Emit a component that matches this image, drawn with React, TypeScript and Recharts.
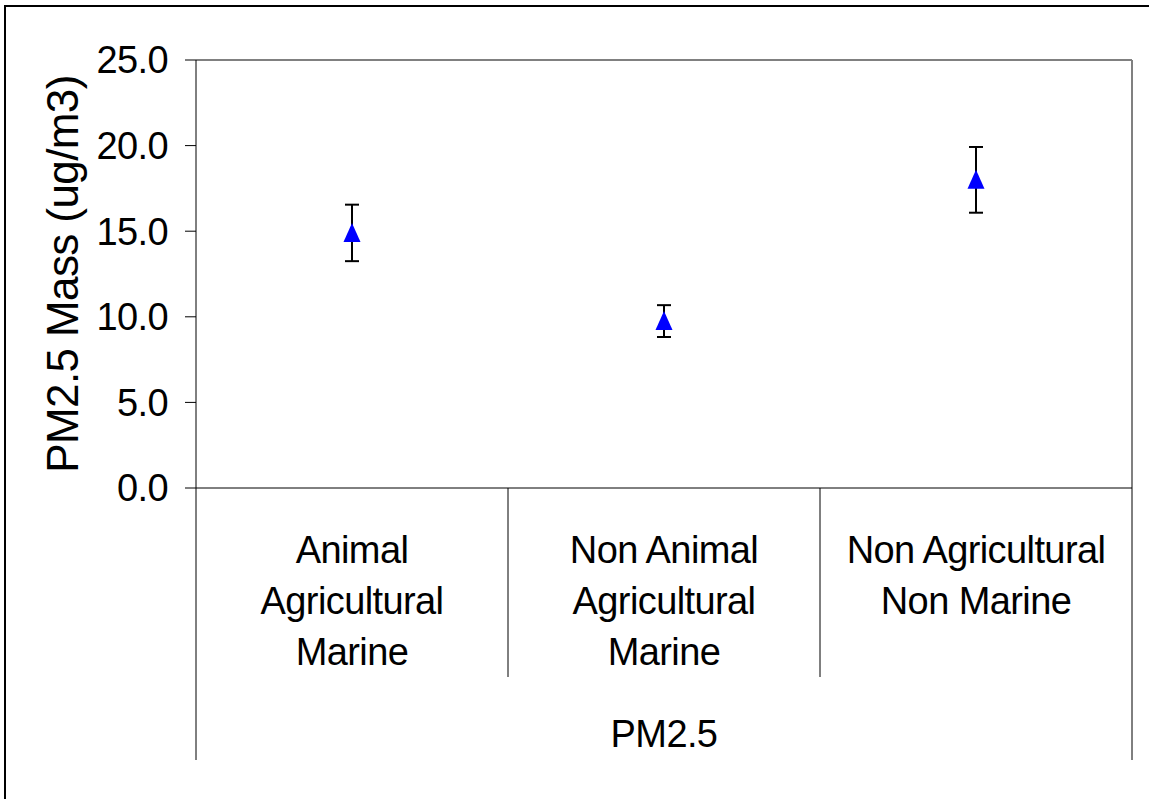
import React from "react";
import {
  ComposedChart,
  Line,
  XAxis,
  YAxis,
  CartesianGrid,
  ErrorBar,
  Label,
} from "recharts";

const CATEGORIES = [
  "Animal Agricultural Marine",
  "Non Animal Agricultural Marine",
  "Non Agricultural Non Marine",
];

// how each category label wraps under the axis
const CATEGORY_LINES = [
  ["Animal", "Agricultural", "Marine"],
  ["Non Animal", "Agricultural", "Marine"],
  ["Non Agricultural", "Non Marine"],
];

const PM25_MEAN = [14.9, 9.75, 18.0];
const PM25_ERROR = [1.65, 0.93, 1.92];

const Y_TICKS = [0, 5, 10, 15, 20, 25];
const GROUP_LABEL = "PM2.5";
const Y_LABEL = "PM2.5 Mass (ug/m3)";

const FONT = "'Liberation Sans', Arial, Helvetica, sans-serif";

const data = CATEGORIES.map((name, i) => ({
  name,
  mean: PM25_MEAN[i],
  err: PM25_ERROR[i],
}));

const TriangleDot = (props: any) => {
  const { cx, cy } = props;
  if (cx == null || cy == null) return null;
  return (
    <path
      d={`M${cx},${cy - 10} L${cx + 8.5},${cy + 9} L${cx - 8.5},${cy + 9} Z`}
      fill="#0000FF"
      stroke="none"
    />
  );
};

const CategoryTick = (props: any) => {
  const { x, y, index, width, visibleTicksCount, payload } = props;
  const count = visibleTicksCount || CATEGORIES.length;
  const half = width ? width / count / 2 : payload?.offset ?? 0;
  const lines = CATEGORY_LINES[index] || [payload.value];
  const last = index === count - 1;
  return (
    <g>
      {index === 0 && (
        <line x1={x - half} y1={y} x2={x - half} y2={y + 272} stroke="#000" strokeWidth={1} />
      )}
      <line x1={x + half} y1={y} x2={x + half} y2={y + (last ? 272 : 189)} stroke="#000" strokeWidth={1} />
      <text
        x={x}
        y={y}
        textAnchor="middle"
        fill="#000"
        fontSize={38}
        fontFamily={FONT}
        letterSpacing={-0.6}
      >
        {lines.map((line, i) => (
          <tspan key={i} x={x} dy={i === 0 ? 75 : 51}>
            {line}
          </tspan>
        ))}
      </text>
    </g>
  );
};

export default function App() {
  return (
    <div style={{ position: "absolute", left: 0, top: 0, width: 1154, height: 799, background: "#fff" }}>
      <div
        style={{
          position: "absolute",
          left: 4,
          top: 5,
          width: 1143,
          height: 794,
          borderLeft: "2px solid #000",
          borderTop: "2px solid #000",
        }}
      />
      <ComposedChart
        width={1154}
        height={799}
        data={data}
        margin={{ top: 60, right: 22, bottom: 39, left: 0 }}
        style={{ position: "absolute", left: 0, top: 0 }}
      >
        <CartesianGrid
          stroke="#808080"
          strokeWidth={2}
          horizontalCoordinatesGenerator={({ offset }: any) => [offset.top]}
          verticalCoordinatesGenerator={({ offset }: any) => [offset.left + offset.width]}
        />
        <XAxis
          dataKey="name"
          type="category"
          scale="band"
          interval={0}
          height={272}
          tickSize={0}
          tickMargin={0}
          tickLine={false}
          axisLine={{ stroke: "#000", strokeWidth: 1 }}
          tick={<CategoryTick />}
        >
          <Label
            value={GROUP_LABEL}
            position="insideBottom"
            offset={13}
            fill="#000"
            fontSize={38}
            fontFamily={FONT}
            letterSpacing={-0.6}
          />
        </XAxis>
        <YAxis
          type="number"
          domain={[0, 25]}
          ticks={Y_TICKS}
          width={196}
          tickSize={11}
          tickMargin={17}
          tickFormatter={(v: number) => v.toFixed(1)}
          tick={{ fill: "#000", fontSize: 38, fontFamily: FONT, letterSpacing: -0.6 }}
          tickLine={{ stroke: "#000" }}
          axisLine={{ stroke: "#000", strokeWidth: 1 }}
        >
          <Label
            value={Y_LABEL}
            angle={-90}
            position="center"
            dx={-36}
            dy={0}
            fill="#000"
            fontSize={44}
            fontFamily={FONT}
            letterSpacing={-0.6}
          />
        </YAxis>
        <Line
          dataKey="mean"
          stroke="none"
          isAnimationActive={false}
          dot={<TriangleDot />}
          activeDot={false}
          legendType="none"
        >
          <ErrorBar dataKey="err" width={7} stroke="#000" strokeWidth={2} direction="y" />
        </Line>
      </ComposedChart>
    </div>
  );
}
